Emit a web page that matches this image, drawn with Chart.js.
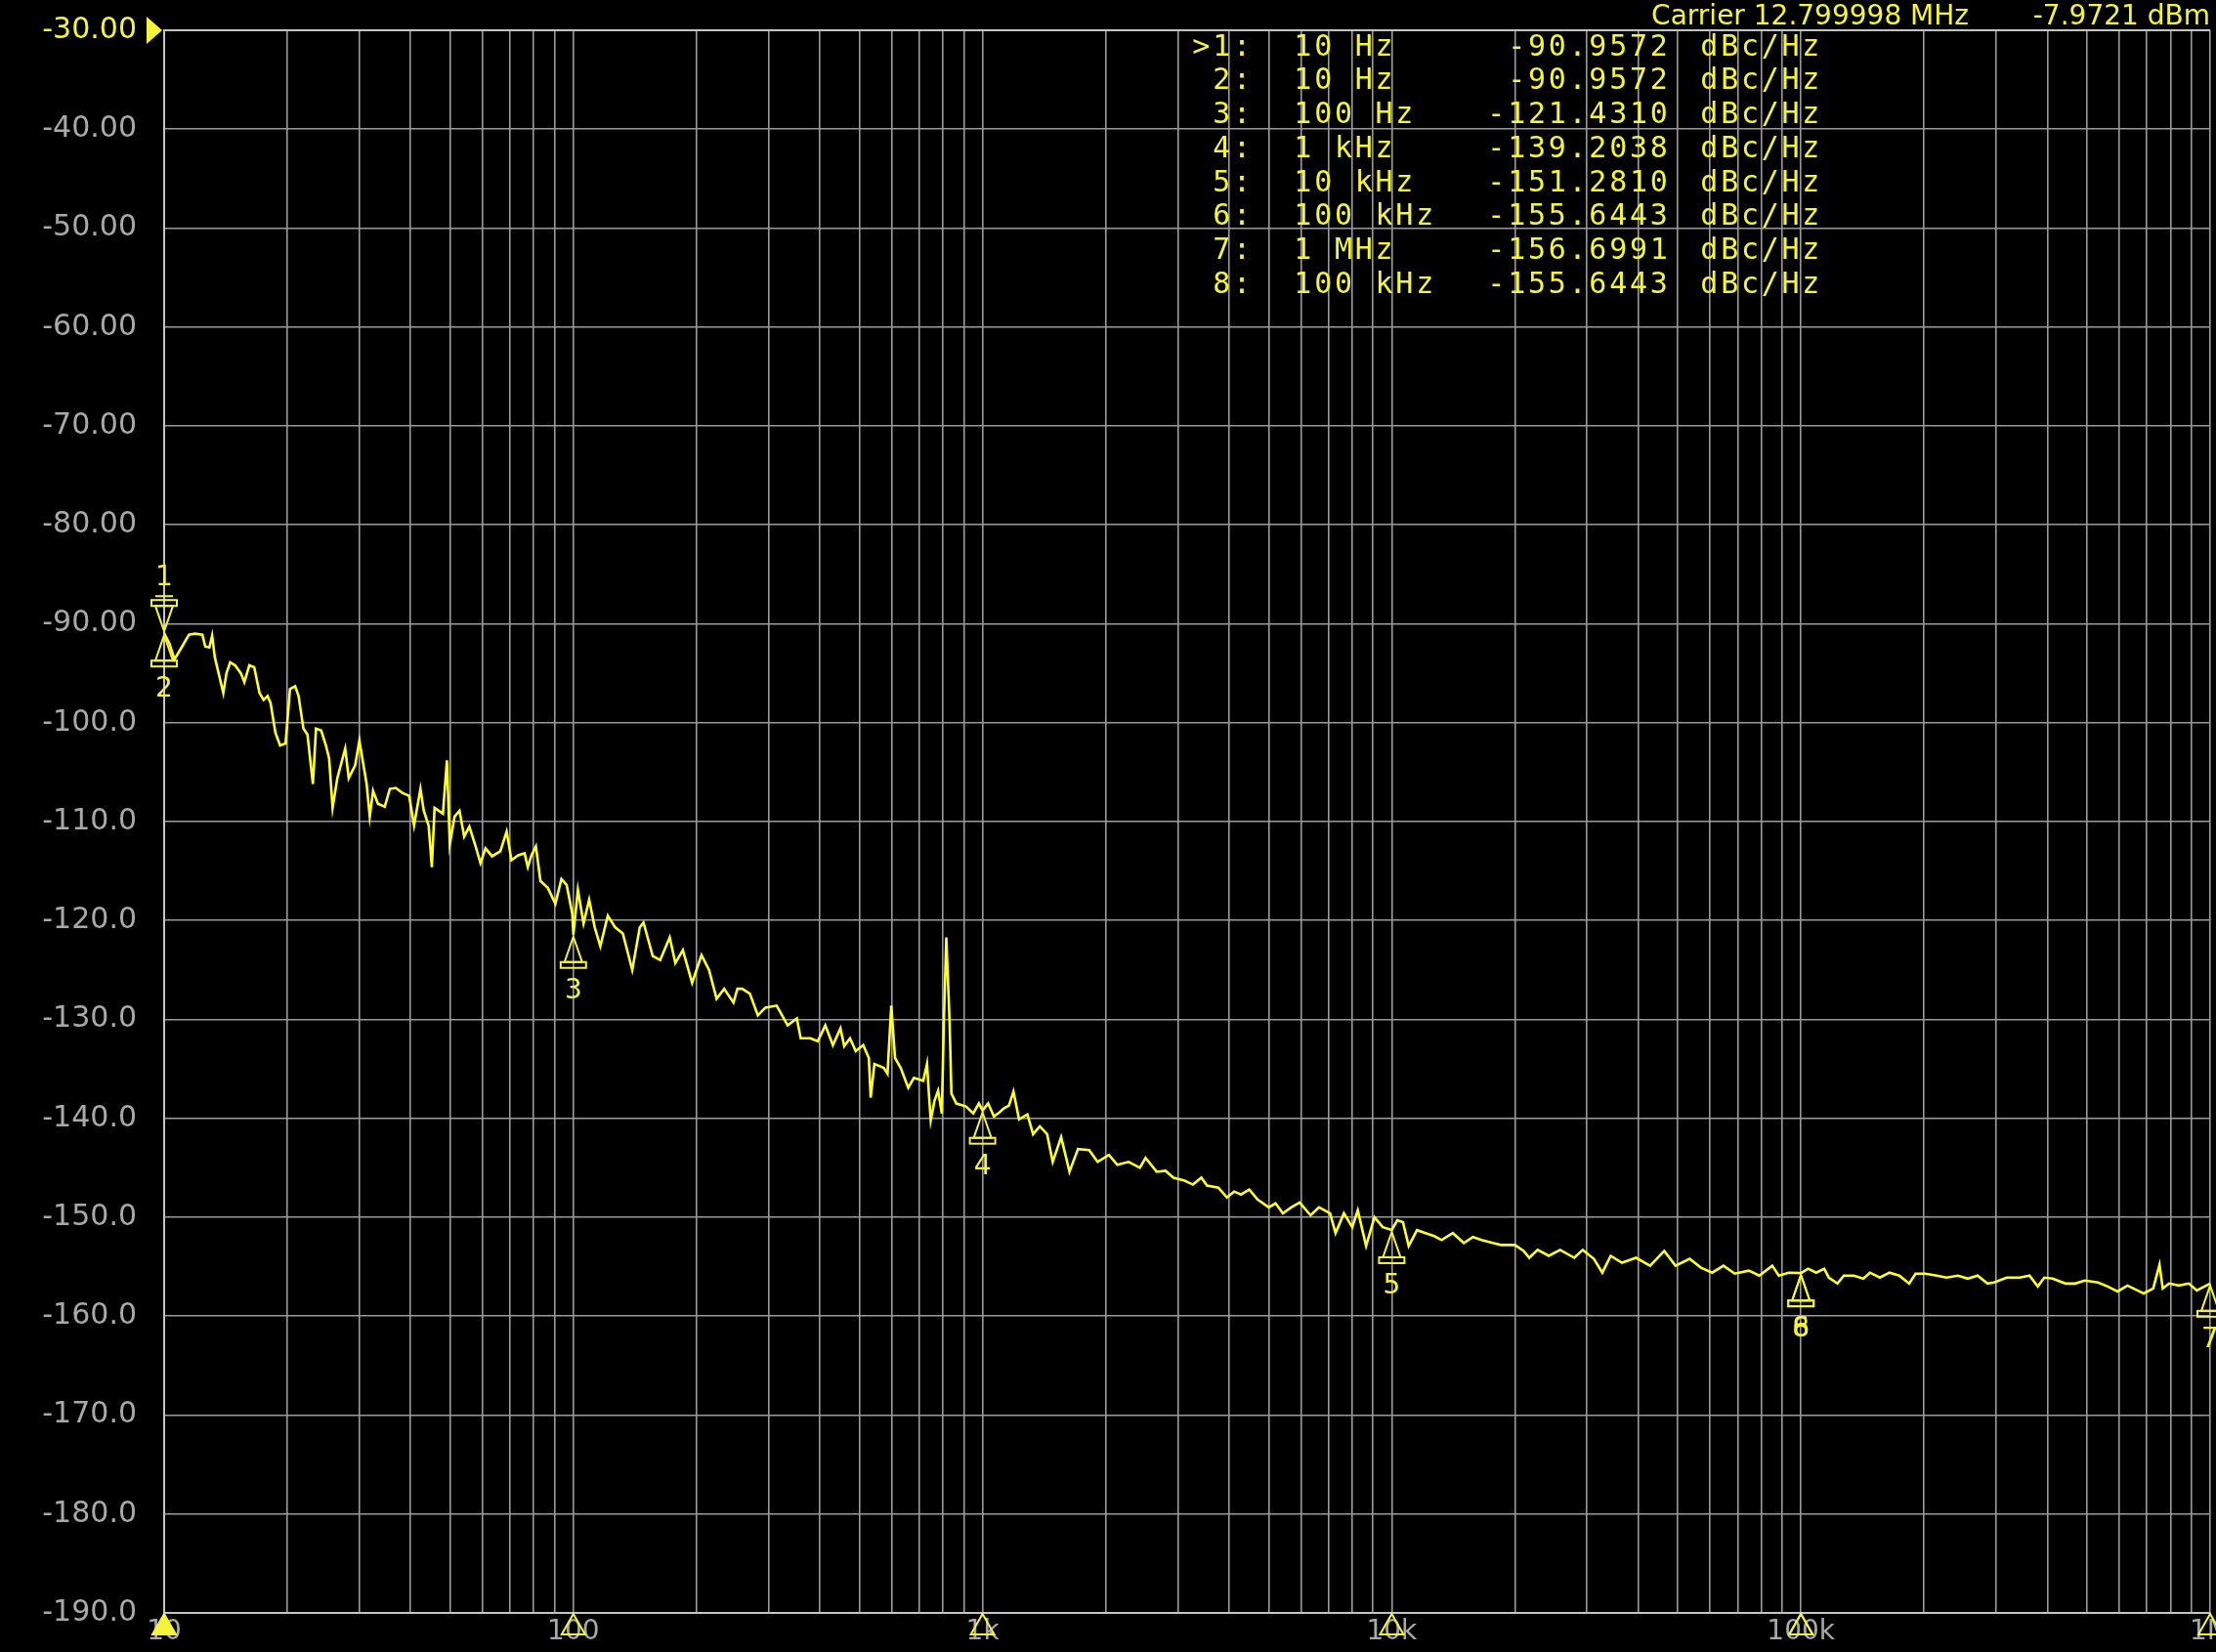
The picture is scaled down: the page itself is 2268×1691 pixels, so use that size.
<!DOCTYPE html>
<html>
<head>
<meta charset="utf-8">
<script src="https://cdn.jsdelivr.net/npm/chart.js@4/dist/chart.umd.min.js"></script>
<style>
  html, body { margin: 0; padding: 0; background: #000; overflow: hidden; }
  canvas { display: block; }
</style>
</head>
<body>
<canvas id="pn" width="2268" height="1691"></canvas>
<script>
// Phase noise trace: offset frequency (Hz) and level (dBc/Hz)
const freqHz = [
  10, 10.3, 10.6, 11.1, 11.5, 11.9, 12.4, 12.6, 12.9, 13.1, 13.3, 13.95, 14.2, 14.5, 14.9, 15.4, 15.7, 16.15, 16.6, 17.1,
  17.5, 17.9, 18.2, 18.7, 19.2, 19.8, 20.3, 20.9, 21.3, 21.9, 22.4, 22.8, 23.1, 23.5, 24.2, 24.85, 25.3, 25.8, 26.5, 27.7,
  28.25, 29.3, 30.0, 30.7, 31.25, 31.8, 32.4, 33.3, 34.6, 35.6, 36.8, 38.2, 39.7, 40.8, 42.3, 43.1, 44.3, 45.1, 45.8, 48.0,
  49.1, 49.9, 51.25, 52.7, 54.1, 55.7, 57.7, 59.3, 61.0, 63.3, 66.3, 68.7, 70.6, 73.3, 76.0, 77.4, 79.0, 81.0, 83.1, 86.6,
  90.4, 93.5, 96.3, 99.4, 100, 102.6, 105.9, 109.3, 112.8, 116.4, 121.4, 126.6, 132.1, 139.3, 145.3, 148.4, 156.3, 163.0, 172.0, 177.5,
  185.2, 195.1, 205.7, 214.6, 223.9, 233.6, 246.2, 251.8, 258.6, 270, 282.4, 294.6, 313.9, 323.7, 334.0, 351.7, 359.4, 379.2, 395.6, 412.8,
  430.8, 449.5, 459.2, 474.3, 489.7, 510.8, 527.4, 532.8, 544.2, 573.6, 585.8, 598.3, 611.2, 630.9, 658.3, 679.5, 716.3, 731.6, 739.3, 747.2,
  763.2, 778.8, 795.2, 804.0, 815.5, 830.7, 839.3, 862.9, 911.2, 949.0, 979.6, 1000, 1032, 1066, 1099, 1127, 1160, 1190, 1228, 1287,
  1329, 1380, 1438, 1484, 1556, 1631, 1711, 1822, 1911, 2036, 2135, 2276, 2423, 2502, 2664, 2800, 2927, 3117, 3267, 3425,
  3536, 3770, 3955, 4120, 4281, 4486, 4700, 5008, 5200, 5420, 5681, 5954, 6335, 6640, 7066, 7289, 7640, 8007, 8260, 8656,
  9073, 9510, 10000, 10320, 10650, 11000, 11530, 12090, 12700, 13240, 14100, 15000, 15800, 16560, 17640, 18490, 20000, 21000, 21680, 22730,
  24200, 25800, 27930, 29280, 31190, 32700, 34290, 36520, 39540, 42800, 46330, 49370, 53450, 56960, 60690, 64680, 68900, 74600, 79100, 85100,
  88300, 93300, 100000, 104100, 109000, 114000, 117000, 122800, 127300, 134500, 142100, 147500, 155900, 164600, 173900, 183800, 190600, 201400, 214700, 226900,
  242000, 255700, 270300, 285700, 296300, 318500, 342400, 361900, 379100, 393300, 412000, 443000, 468000, 494000, 532000, 562000, 594000, 628000, 664000, 688000,
  726000, 752000, 766000, 794000, 839000, 887000, 928000, 1000000
];
const noiseDbcHz = [
  -90.9572, -92.0, -93.6, -92.2, -91.1, -91.0, -91.1, -92.3, -92.4, -91.2, -93.4, -97.0, -95.0, -93.9, -94.2, -95.0, -95.9, -94.2, -94.4, -97.0,
  -97.7, -97.3, -98.0, -101.0, -102.3, -102.1, -96.6, -96.3, -97.3, -100.6, -101.2, -104.1, -106.2, -100.6, -100.8, -102.3, -103.6, -108.6, -105.6, -102.6,
  -105.6, -104.3, -101.8, -104.3, -106.2, -109.5, -106.9, -108.2, -108.5, -106.7, -106.6, -107.1, -107.4, -110.4, -106.7, -108.9, -110.4, -114.6, -108.6, -109.2,
  -103.8, -112.3, -109.5, -108.9, -111.5, -110.5, -112.5, -114.2, -112.7, -113.5, -113.0, -111.0, -113.9, -113.4, -113.2, -114.6, -113.4, -112.5, -116.0, -116.7,
  -118.3, -115.8, -116.4, -119.3, -121.431, -116.9, -120.3, -117.9, -120.7, -122.6, -119.5, -120.7, -121.3, -125.0, -120.7, -120.2, -123.6, -124.0, -121.7, -124.3,
  -123.0, -126.3, -123.5, -125.0, -127.9, -126.9, -128.3, -126.9, -126.9, -127.4, -129.6, -128.8, -128.6, -129.6, -130.6, -129.9, -131.9, -131.9, -132.2, -130.6,
  -132.6, -130.9, -132.7, -131.9, -133.2, -132.6, -133.9, -137.9, -134.5, -134.9, -135.5, -128.6, -133.9, -134.9, -136.9, -135.9, -136.2, -134.5, -137.5, -140.2,
  -138.2, -137.2, -139.5, -130.6, -121.7, -130.2, -137.5, -138.5, -138.8, -139.5, -138.5, -139.2038, -138.5, -139.8, -139.4, -139.0, -138.7, -137.3, -140.1, -139.6,
  -141.6, -140.8, -141.6, -144.4, -141.9, -145.4, -143.1, -143.2, -144.4, -143.7, -144.7, -144.4, -145.0, -144.0, -145.4, -145.3, -146.0, -146.3, -146.7, -146.0,
  -146.8, -147.0, -148.0, -147.4, -147.7, -147.2, -148.2, -149.0, -148.6, -149.6, -149.0, -148.5, -149.8, -149.0, -149.6, -151.6, -149.6, -151.0, -149.3, -152.9,
  -150.0, -151.0, -151.281, -150.3, -150.5, -152.9, -151.3, -151.6, -151.9, -152.3, -151.6, -152.6, -152.0, -152.3, -152.6, -152.8, -152.8, -153.4, -154.1, -153.3,
  -153.9, -153.3, -154.1, -153.3, -154.2, -155.6, -153.9, -154.6, -154.1, -154.9, -153.4, -154.9, -154.2, -155.1, -155.6, -154.9, -155.7, -155.4, -155.9, -154.9,
  -155.9, -155.6, -155.6443, -155.2, -155.6, -155.2, -156.1, -156.7, -155.9, -155.9, -156.2, -155.6, -156.1, -155.6, -155.9, -156.7, -155.7, -155.7, -155.9, -156.1,
  -155.9, -156.2, -155.9, -156.7, -156.6, -156.1, -156.1, -155.9, -157.0, -156.1, -156.2, -156.7, -156.7, -156.4, -156.6, -157.0, -157.5, -156.9, -157.4, -157.7,
  -157.2, -154.8, -157.2, -156.7, -156.9, -156.7, -157.4, -156.6991
];

// Marker table
const markerIds = [1, 2, 3, 4, 5, 6, 7, 8];
const markerFreqHz = [10, 10, 100, 1000, 10000, 100000, 1000000, 100000];
const markerFreqText = ['10 Hz', '10 Hz', '100 Hz', '1 kHz', '10 kHz', '100 kHz', '1 MHz', '100 kHz'];
const markerDbcHz = [-90.9572, -90.9572, -121.4310, -139.2038, -151.2810, -155.6443, -156.6991, -155.6443];
const activeMarker = 1;

// Axis ticks
const xTickValues = [10, 100, 1000, 10000, 100000, 1000000];
const xTickLabels = ['10', '100', '1k', '10k', '100k', '1M'];
const yTickValues = [-190, -180, -170, -160, -150, -140, -130, -120, -110, -100, -90, -80, -70, -60, -50, -40, -30];
const yTickLabels = ['-190.0', '-180.0', '-170.0', '-160.0', '-150.0', '-140.0', '-130.0', '-120.0', '-110.0', '-100.0',
                     '-90.00', '-80.00', '-70.00', '-60.00', '-50.00', '-40.00', '-30.00'];

const carrierFreqText = 'Carrier 12.799998 MHz';
const carrierPowerText = '-7.9721 dBm';

const TRACE = '#ffff2e';
const MARK = '#f4f43c';
const LABEL_GREY = '#a9a9a9';
const GRID = '#9a9a9a';
const SANS = '"DejaVu Sans", sans-serif';
const MONO = '"DejaVu Sans Mono", monospace';

// log grid: 1..9 in every decade from 10 Hz to 1 MHz
const xGridValues = [];
for (let d = 10; d < 1000000; d *= 10) {
  for (let m = 1; m <= 9; m++) xGridValues.push(m * d);
}
xGridValues.push(1000000);

const tracePoints = freqHz.map((f, i) => ({ x: f, y: noiseDbcHz[i] }));

function triangleUp(ctx, x, y) {
  // tip at (x, y), body hanging below with a base bar
  ctx.beginPath();
  ctx.moveTo(x, y + 2);
  ctx.lineTo(x - 9, y + 28);
  ctx.lineTo(x + 9, y + 28);
  ctx.closePath();
  ctx.stroke();
  ctx.strokeRect(x - 13, y + 28, 26, 6);
}
function triangleDown(ctx, x, y) {
  ctx.beginPath();
  ctx.moveTo(x, y - 2);
  ctx.lineTo(x - 9, y - 28);
  ctx.lineTo(x + 9, y - 28);
  ctx.closePath();
  ctx.stroke();
  ctx.strokeRect(x - 13, y - 34, 26, 6);
  ctx.beginPath();
  ctx.moveTo(x - 9, y - 38);
  ctx.lineTo(x + 9, y - 38);
  ctx.stroke();
}

const analyzerOverlay = {
  id: 'analyzerOverlay',
  afterDatasetsDraw(chart) {
    const { ctx, chartArea, scales } = chart;
    const xs = scales.x, ys = scales.y;
    ctx.save();
    ctx.strokeStyle = MARK;
    ctx.fillStyle = MARK;
    ctx.lineWidth = 2;
    ctx.font = '28px ' + SANS;
    ctx.textAlign = 'center';
    ctx.textBaseline = 'middle';

    // markers on the trace
    markerIds.forEach((id, i) => {
      const px = xs.getPixelForValue(markerFreqHz[i]);
      const py = ys.getPixelForValue(markerDbcHz[i]);
      if (id === activeMarker) {
        triangleDown(ctx, px, py);
        ctx.fillText(String(id), px, py - 56);
      } else {
        triangleUp(ctx, px, py);
        ctx.fillText(String(id), px, py + 58);
      }
    });

    // marker flags on the frequency axis
    markerIds.forEach((id, i) => {
      const px = xs.getPixelForValue(markerFreqHz[i]);
      const py = chartArea.bottom;
      ctx.beginPath();
      ctx.moveTo(px, py + 1);
      ctx.lineTo(px - 12, py + 22);
      ctx.lineTo(px + 12, py + 22);
      ctx.closePath();
      if (id === activeMarker) ctx.fill(); else ctx.stroke();
    });

    // reference level flag
    const ry = ys.getPixelForValue(ys.max);
    ctx.beginPath();
    ctx.moveTo(chartArea.left - 2, ry);
    ctx.lineTo(chartArea.left - 18, ry - 14);
    ctx.lineTo(chartArea.left - 18, ry + 14);
    ctx.closePath();
    ctx.fill();
    ctx.restore();
  },
  afterDraw(chart) {
    const { ctx, chartArea } = chart;
    ctx.save();
    ctx.fillStyle = MARK;

    // carrier readout
    ctx.font = '28px ' + SANS;
    ctx.textBaseline = 'alphabetic';
    ctx.textAlign = 'right';
    ctx.fillText(carrierPowerText, chartArea.right, 25);
    ctx.fillText(carrierFreqText, chartArea.right - 247, 25);

    // marker table on a fixed character grid
    const pitch = 20.8, rowH = 34.7;
    const x0 = chartArea.right - 1043;
    const y0 = chartArea.top + 18;
    ctx.font = '30px ' + MONO;
    ctx.textAlign = 'center';
    ctx.textBaseline = 'middle';
    const put = (text, col, y, shift) => {
      for (let c = 0; c < text.length; c++) {
        if (text[c] !== ' ') ctx.fillText(text[c], x0 + (col + c) * pitch + pitch / 2 + shift, y);
      }
    };
    markerIds.forEach((id, i) => {
      const y = y0 + i * rowH;
      put((id === activeMarker ? '>' : ' ') + id + ':', 0, y, 0);
      put(markerFreqText[i], 5, y, 0);
      const val = markerDbcHz[i].toFixed(4);
      put(val, 24 - val.length, y, -10);
      put('dBc/Hz', 25, y, 0);
    });
    ctx.restore();
  }
};

new Chart(document.getElementById('pn'), {
  type: 'line',
  data: {
    datasets: [{
      data: tracePoints,
      borderColor: TRACE,
      borderWidth: 2.6,
      pointRadius: 0,
      tension: 0,
      fill: false
    }]
  },
  options: {
    responsive: false,
    devicePixelRatio: 1,
    animation: false,
    parsing: false,
    layout: { padding: { top: 31, right: 6, left: 0, bottom: 0 } },
    plugins: { legend: { display: false }, tooltip: { enabled: false } },
    scales: {
      x: {
        type: 'logarithmic',
        min: 10,
        max: 1000000,
        afterBuildTicks(scale) {
          scale.ticks = xGridValues.map(v => ({ value: v }));
        },
        afterFit(scale) {
          scale.height = 40;
          scale.paddingLeft = 0;
          scale.paddingRight = 0;
        },
        grid: { color: GRID, lineWidth: 1.6, drawTicks: false },
        border: { color: '#c4c4c4', width: 2 },
        ticks: {
          autoSkip: false,
          maxRotation: 0,
          padding: 3,
          color: LABEL_GREY,
          font: { family: SANS, size: 28 },
          callback(value) {
            const k = xTickValues.indexOf(value);
            return k >= 0 ? xTickLabels[k] : '';
          }
        }
      },
      y: {
        type: 'linear',
        min: -190,
        max: -30,
        afterBuildTicks(scale) {
          scale.ticks = yTickValues.map(v => ({ value: v }));
        },
        afterFit(scale) {
          scale.width = 168;
          scale.paddingTop = 0;
          scale.paddingBottom = 0;
        },
        grid: {
          color: ctx => (ctx.tick && ctx.tick.value === -30 ? '#c4c4c4' : GRID),
          lineWidth: ctx => (ctx.tick && ctx.tick.value === -30 ? 2 : 1.6),
          drawTicks: false
        },
        border: { color: '#c4c4c4', width: 2 },
        ticks: {
          padding: 28,
          color: ctx => (ctx.tick && ctx.tick.value === -30 ? MARK : LABEL_GREY),
          font: { family: SANS, size: 30 },
          callback(value) {
            const k = yTickValues.indexOf(value);
            return k >= 0 ? yTickLabels[k] : '';
          }
        }
      }
    }
  },
  plugins: [analyzerOverlay]
});
</script>
</body>
</html>
